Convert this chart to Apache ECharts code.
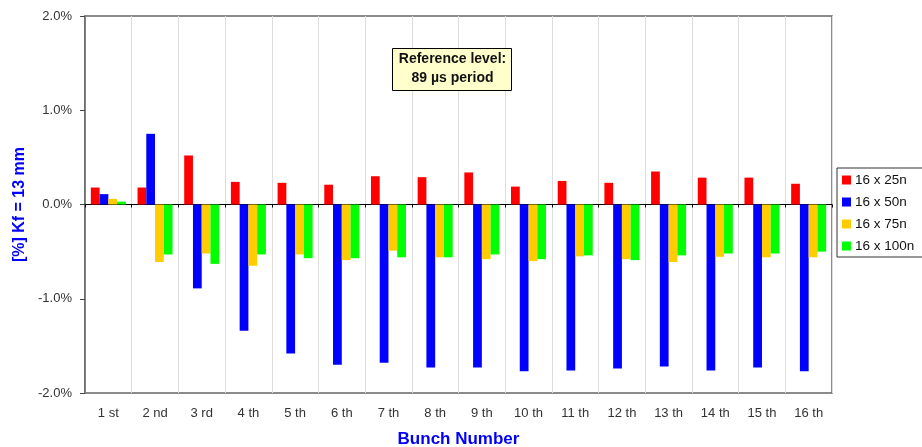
<!DOCTYPE html>
<html>
<head>
<meta charset="utf-8">
<script src="https://cdn.jsdelivr.net/npm/echarts@6/dist/echarts.min.js"></script>
<style>
html,body{margin:0;padding:0;background:#fff;}
#chart{width:922px;height:447px;}
</style>
</head>
<body>
<div id="chart"></div>
<script>
var categories = ['1 st','2 nd','3 rd','4 th','5 th','6 th','7 th','8 th','9 th','10 th','11 th','12 th','13 th','14 th','15 th','16 th'];
var s25n  = [0.18, 0.18, 0.52, 0.24, 0.23, 0.21, 0.30, 0.29, 0.34, 0.19, 0.25, 0.23, 0.35, 0.285, 0.285, 0.22];
var s50n  = [0.11, 0.75, -0.89, -1.34, -1.58, -1.70, -1.68, -1.73, -1.73, -1.77, -1.76, -1.74, -1.72, -1.76, -1.73, -1.77];
var s75n  = [0.06, -0.61, -0.52, -0.65, -0.53, -0.59, -0.49, -0.56, -0.58, -0.60, -0.55, -0.58, -0.61, -0.555, -0.56, -0.56];
var s100n = [0.03, -0.53, -0.63, -0.53, -0.57, -0.57, -0.56, -0.56, -0.53, -0.58, -0.54, -0.59, -0.54, -0.52, -0.52, -0.50];
var seriesNames = ['16 x 25n','16 x 50n','16 x 75n','16 x 100n'];
var yMin = -2, yMax = 2, yInterval = 1;

var FONT = '"Liberation Sans", Arial, sans-serif';
var colors = ['#ff0000','#0000ff','#ffcc00','#00ff00'];
var data = [s25n, s50n, s75n, s100n];

var chart = echarts.init(document.getElementById('chart'), null, {renderer:'canvas'});
chart.setOption({
  animation: false,
  textStyle: {fontFamily: FONT},
  grid: {left: 85, right: 90, top: 16, bottom: 54, show: true, borderColor: '#666', borderWidth: 1.5,
    backgroundColor: 'transparent', containLabel: false, outerBoundsMode: 'none'},
  legend: {
    orient: 'vertical', left: 837, top: 168,
    data: seriesNames,
    icon: 'rect', itemWidth: 9, itemHeight: 9, itemGap: 8,
    borderColor: '#333', borderWidth: 1,
    padding: [5, 40, 4, 5],
    backgroundColor: '#fff',
    textStyle: {fontFamily: FONT, fontSize: 13.5, color: '#111', padding: [0,0,0,-1]}
  },
  xAxis: [{
    type: 'category', data: categories, position: 'bottom',
    axisLine: {show: false, onZero: false},
    axisTick: {show: false},
    splitLine: {show: true, lineStyle: {color: '#dcdcdc', width: 1}},
    axisLabel: {color: '#333', fontSize: 13, margin: 14, fontFamily: FONT},
    name: 'Bunch Number', nameLocation: 'middle', nameGap: 38,
    nameTextStyle: {color: '#0000ff', fontWeight: 'bold', fontSize: 17, fontFamily: FONT}
  }, {
    type: 'category', data: categories, position: 'bottom',
    axisLine: {show: true, onZero: true, lineStyle: {color: '#000', width: 1}},
    axisTick: {show: true, length: 3, lineStyle: {color: '#000'}},
    axisLabel: {show: false},
    splitLine: {show: false}
  }],
  yAxis: {
    type: 'value', min: yMin, max: yMax, interval: yInterval,
    axisLine: {show: true, lineStyle: {color: '#666', width: 1.5}},
    axisTick: {show: true, length: 5, lineStyle: {color: '#444'}},
    splitLine: {show: false},
    axisLabel: {color: '#333', fontSize: 13, margin: 13, fontFamily: FONT,
      formatter: function(v){ return v.toFixed(1) + '%'; }},
    name: '[%] Kf = 13 mm', nameLocation: 'middle', nameGap: 57,
    nameTextStyle: {color: '#0000ff', fontWeight: 'bold', fontSize: 16, fontFamily: FONT}
  },
  series: seriesNames.map(function(n, i){
    return {
      name: n, type: 'bar', data: data[i], xAxisIndex: 0,
      barGap: '0%', barCategoryGap: '25%',
      itemStyle: {color: colors[i]}
    };
  }),
  graphic: [{
    type: 'group', left: 392, top: 48, z: 100,
    children: [{
      type: 'rect', z: 100, shape: {x: 0, y: 0, width: 119, height: 42},
      style: {fill: '#ffffcc', stroke: '#000', lineWidth: 1}
    }, {
      type: 'text', z: 101, x: 60, y: 10.5,
      style: {text: 'Reference level:', font: 'bold 14px ' + FONT, fill: '#111', textAlign: 'center', textVerticalAlign: 'middle'}
    }, {
      type: 'text', z: 101, x: 60, y: 29.5,
      style: {text: '89 \u00b5s period', font: 'bold 14px ' + FONT, fill: '#111', textAlign: 'center', textVerticalAlign: 'middle'}
    }]
  }]
});
</script>
</body>
</html>
